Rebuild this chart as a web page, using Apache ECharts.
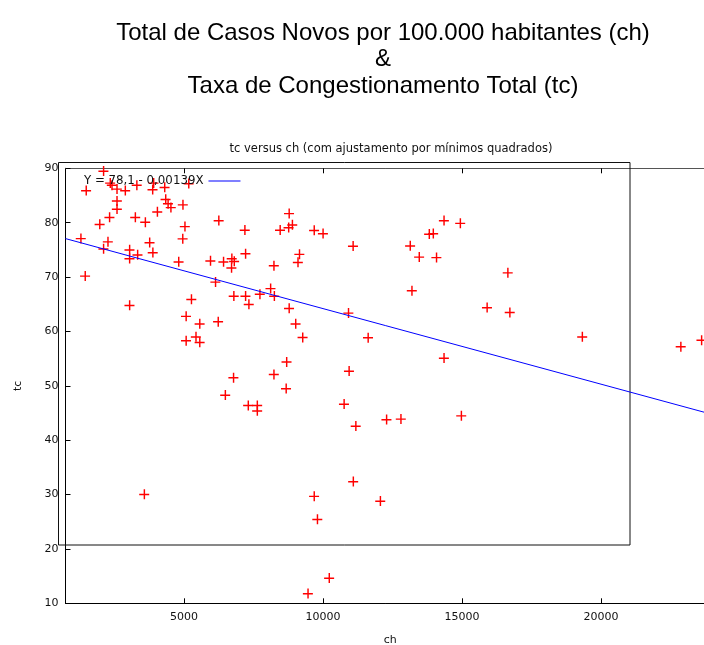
<!DOCTYPE html>
<html>
<head>
<meta charset="utf-8">
<script src="https://cdn.jsdelivr.net/npm/echarts@6/dist/echarts.min.js"></script>
<style>html,body{margin:0;padding:0;background:#fff}#c{width:704px;height:645px}</style>
</head>
<body>
<div id="c"></div>
<script>
// ch values (x) and tc values (y)
var chValues = [2102,2343,2404,2585,2884,3299,3904,3868,4301,5166,1478,2585,2585,1965,2318,3245,3605,4038,4337,4423,4524,4957,5029,4950,3760,3875,2260,2102,1287,1442,3039,3039,3327,4805,5948,6129,6247,6417,6716,6803,6705,7185,7210,8230,8454,8778,8894,8760,9095,9149,9679,9997,11078,13133,13457,14078,13818,13962,14348,14935,13194,16644,15898,16716,19323,22866,23613,14348,14972,12282,12798,11176,10934,10754,10912,11619,8778,9013,9265,8688,8230,8670,6777,6482,7307,7632,7632,5072,5562,6226,5072,5426,5562,3039,5263,6788,7210,7329,7726,8111,8245,3569,9679,9795,11085,12059,9456,10220];
var tcValues = [89.5,87.3,86.9,86.2,85.9,86.9,87.3,86.1,86.5,87.2,85.9,84.0,82.5,79.7,81.0,81.0,80.1,82.0,84.3,83.5,82.8,83.3,79.3,77.05,76.35,74.5,76.5,75.2,77.1,70.2,75.0,73.4,74.1,72.8,73.0,69.1,80.4,72.8,73.4,72.9,71.7,78.65,74.3,72.1,78.65,81.7,79.6,79.1,72.7,74.2,78.6,78.0,75.7,75.75,73.7,73.6,77.9,78.0,80.4,79.9,67.5,70.8,64.4,63.5,59.0,57.2,58.4,55.1,44.5,43.8,43.9,42.6,52.7,46.65,63.4,58.85,64.25,61.4,58.9,54.4,52.1,49.5,51.5,48.3,46.4,46.4,45.4,62.8,61.4,61.8,58.3,59.0,58.0,64.8,65.9,66.5,66.5,65.0,66.85,67.9,66.5,30.05,29.7,25.45,32.4,28.8,11.8,14.65];
// least squares fit line endpoints: Y = 78,1 - 0,00139X
var fitCh = [738, 24100];
var fitTc = [77.07, 44.6];
var xTicks = [5000, 10000, 15000, 20000];
var yMin = 10, yMax = 90, yStep = 10;
var xMin = 738, xMax = 24100;
var fitLabel = 'Y = 78,1 - 0,00139X';

var pts = chValues.map(function (v, i) { return [v, tcValues[i]]; });
var fitPts = fitCh.map(function (v, i) { return [v, fitTc[i]]; });

var chart = echarts.init(document.getElementById('c'), null, {renderer: 'canvas'});
var font = 'DejaVu Sans';
var gl = 65.5, gt = 168.3, gw = 649.5, gh = 435;
chart.setOption({
  animation: false,
  backgroundColor: '#fff',
  title: [{
    text: 'Total de Casos Novos por 100.000 habitantes (ch)\n&\nTaxa de Congestionamento Total (tc)',
    left: 378, top: 15, textAlign: 'center',
    textStyle: {fontFamily: 'Liberation Sans', fontSize: 24, fontWeight: 'normal', color: '#000', lineHeight: 26.5}
  }, {
    text: 'tc versus ch (com ajustamento por mínimos quadrados)',
    left: 386, top: 138, textAlign: 'center',
    textStyle: {fontFamily: font, fontSize: 11.5, fontWeight: 'normal', color: '#111'}
  }],
  legend: {
    left: 79, top: 170, align: 'right', itemWidth: 32, itemHeight: 10, itemGap: 7,
    data: [{name: fitLabel, icon: 'path://M0,5L32,5L32,6L0,6Z', itemStyle: {color: '#0000ff'}}],
    textStyle: {fontFamily: font, fontSize: 11.8, color: '#111'}
  },
  grid: {left: gl, top: gt, width: gw, height: gh, containLabel: false, outerBoundsMode: 'none'},
  xAxis: [{
    type: 'value', min: xMin, max: xMax, position: 'bottom',
    name: 'ch', nameLocation: 'middle', nameGap: 31,
    nameTextStyle: {fontFamily: font, fontSize: 11, color: '#111'},
    axisLine: {show: true, lineStyle: {color: '#000', width: 1}},
    axisTick: {show: true, inside: true, length: 5, customValues: xTicks, lineStyle: {color: '#000'}},
    axisLabel: {customValues: xTicks, margin: 8, fontFamily: font, fontSize: 11, color: '#111',
      formatter: function (v) { return String(v); }},
    splitLine: {show: false}
  }, {
    type: 'value', min: xMin, max: xMax, position: 'top',
    axisLine: {show: true, lineStyle: {color: '#555', width: 1}},
    axisTick: {show: true, inside: true, length: 5, customValues: xTicks, lineStyle: {color: '#000'}},
    axisLabel: {show: false},
    splitLine: {show: false}
  }],
  yAxis: {
    type: 'value', min: yMin, max: yMax, interval: yStep,
    name: 'tc', nameLocation: 'middle', nameGap: 42, nameRotate: 90,
    nameTextStyle: {fontFamily: font, fontSize: 11, color: '#111'},
    axisLine: {show: true, lineStyle: {color: '#000', width: 1}},
    axisTick: {show: true, inside: true, length: 5, lineStyle: {color: '#000'}},
    axisLabel: {margin: 7, fontFamily: font, fontSize: 11, color: '#111'},
    splitLine: {show: false}
  },
  graphic: [{
    type: 'rect', silent: true, z: 1,
    shape: {x: 58.5, y: 162.5, width: 571.5, height: 382.5},
    style: {fill: 'none', stroke: '#111', lineWidth: 1}
  }],
  series: [{
    type: 'scatter', name: 'tc', data: pts,
    symbol: 'path://M0,4L9,4L9,5.3L0,5.3Z M4,0L5.3,0L5.3,9L4,9Z', symbolSize: 10,
    itemStyle: {color: '#ff0000', opacity: 1},
    z: 3
  }, {
    type: 'line', name: fitLabel, data: fitPts, symbol: 'none',
    lineStyle: {color: '#0000ff', width: 1},
    itemStyle: {color: '#0000ff'},
    z: 4
  }]
});
</script>
</body>
</html>
